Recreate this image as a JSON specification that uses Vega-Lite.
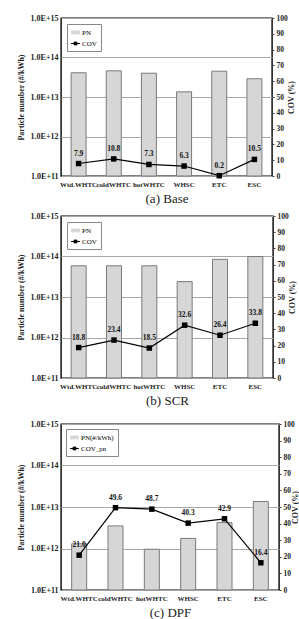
{
  "$schema": "https://vega.github.io/schema/vega-lite/v6.json",
  "padding": {"left": 16, "top": 13, "right": 0, "bottom": 0},
  "config": {
    "font": "Liberation Serif",
    "view": {"stroke": "black", "strokeWidth": 1.4},
    "axis": {"labelFont": "Liberation Serif", "titleFont": "Liberation Serif", "labelColor": "#222", "titleColor": "#222"},
    "legend": {"labelFont": "Liberation Serif"}
  },
  "resolve": {"scale": {"color": "independent"}, "legend": {"color": "independent"}},
  "spacing": 11,
  "vconcat": [
    {
      "resolve": {"scale": {"color": "independent"}, "legend": {"color": "independent"}},
      "spacing": 5,
      "vconcat": [
        {
          "width": 211,
          "height": 158,
          "data": {"values": [
            {"cycle": "Wtd.WHTC", "pn": 4.1e13, "cov": 7.9},
            {"cycle": "coldWHTC", "pn": 4.6e13, "cov": 10.8},
            {"cycle": "hotWHTC", "pn": 4.0e13, "cov": 7.3},
            {"cycle": "WHSC", "pn": 1.35e13, "cov": 6.3},
            {"cycle": "ETC", "pn": 4.5e13, "cov": 0.2},
            {"cycle": "ESC", "pn": 2.9e13, "cov": 10.5}
          ]},
          "layer": [
            {
              "mark": {"type": "bar", "size": 15, "stroke": "#7a7a7a", "strokeWidth": 1},
              "encoding": {
                "x": {"field": "cycle", "type": "nominal", "sort": null,
                  "axis": {"title": "(a)  Base", "titleFontSize": 13, "titleFontWeight": "normal", "titlePadding": 5, "labelAngle": 0, "labelFontSize": 7, "labelFontWeight": "bold", "labelPadding": 4, "ticks": false, "domain": false}},
                "y": {"field": "pn", "type": "quantitative", "scale": {"type": "log", "domain": [1e11, 1e15]},
                  "axis": {"title": "Particle number (#/kWh)", "titleFontSize": 8, "titleFontWeight": "bold", "titlePadding": 5, "values": [1e11, 1e12, 1e13, 1e14, 1e15], "labelExpr": "'1.0E+' + round(log(datum.value)/LN10)", "labelFontSize": 8, "labelFontWeight": "bold", "labelPadding": 3, "ticks": false, "domain": false, "grid": true, "gridColor": "#a8a8a8", "gridWidth": 1}},
                "y2": {"datum": 1e11},
                "color": {"datum": "PN", "scale": {"domain": ["PN", "COV"], "range": ["#d6d6d6", "black"]},
                  "legend": {"title": null, "orient": "top-left", "offset": 6, "padding": 4, "strokeColor": "#888", "fillColor": "white", "labelFontSize": 7, "symbolSize": 64, "rowPadding": 3, "labelOffset": 2,
                    "symbolType": {"expr": "datum.value === 'PN' ? 'M-1,-0.35H1V0.35H-1Z' : 'M-1.1,0H1.1M-0.35,-0.35H0.35V0.35H-0.35Z'"},
                    "symbolStrokeColor": {"expr": "datum.value === 'PN' ? '#666' : 'black'"},
                    "symbolStrokeWidth": 1}}
              }
            },
            {
              "encoding": {
                "x": {"field": "cycle", "type": "nominal", "sort": null},
                "y": {"field": "cov", "type": "quantitative", "scale": {"domain": [0, 100]},
                  "axis": {"orient": "right", "title": "COV (%)", "titleAngle": 270, "titleFontSize": 8, "titleFontWeight": "bold", "titlePadding": 8, "values": [0, 10, 20, 30, 40, 50, 60, 70, 80, 90, 100], "labelFontSize": 7.5, "labelFontWeight": "bold", "tickSize": 2, "tickColor": "#444", "labelPadding": 2, "domain": false, "grid": false}}
              },
              "layer": [
                {"mark": {"type": "line", "strokeWidth": 1.2}, "encoding": {"color": {"datum": "COV"}}},
                {"mark": {"type": "point", "shape": "square", "filled": true, "size": 30, "opacity": 1}, "encoding": {"color": {"datum": "COV"}}},
                {"mark": {"type": "text", "dy": -10, "fontSize": 7.5, "fontWeight": "bold", "fill": "#111"}, "encoding": {"text": {"field": "cov", "type": "quantitative", "format": ".1f"}}}
              ]
            }
          ],
          "resolve": {"scale": {"y": "independent"}}
        },
        {
          "width": 212,
          "height": 162,
          "data": {"values": [
            {"cycle": "Wtd.WHTC", "pn": 5.9e13, "cov": 18.8},
            {"cycle": "coldWHTC", "pn": 5.9e13, "cov": 23.4},
            {"cycle": "hotWHTC", "pn": 5.9e13, "cov": 18.5},
            {"cycle": "WHSC", "pn": 2.4e13, "cov": 32.6},
            {"cycle": "ETC", "pn": 8.5e13, "cov": 26.4},
            {"cycle": "ESC", "pn": 1.0e14, "cov": 33.8}
          ]},
          "layer": [
            {
              "mark": {"type": "bar", "size": 15, "stroke": "#7a7a7a", "strokeWidth": 1},
              "encoding": {
                "x": {"field": "cycle", "type": "nominal", "sort": null,
                  "axis": {"title": "(b)  SCR", "titleFontSize": 13, "titleFontWeight": "normal", "titlePadding": 5, "labelAngle": 0, "labelFontSize": 7, "labelFontWeight": "bold", "labelPadding": 4, "ticks": false, "domain": false}},
                "y": {"field": "pn", "type": "quantitative", "scale": {"type": "log", "domain": [1e11, 1e15]},
                  "axis": {"title": "Particle number (#/kWh)", "titleFontSize": 8, "titleFontWeight": "bold", "titlePadding": 5, "values": [1e11, 1e12, 1e13, 1e14, 1e15], "labelExpr": "'1.0E+' + round(log(datum.value)/LN10)", "labelFontSize": 8, "labelFontWeight": "bold", "labelPadding": 3, "ticks": false, "domain": false, "grid": true, "gridColor": "#a8a8a8", "gridWidth": 1}},
                "y2": {"datum": 1e11},
                "color": {"datum": "PN", "scale": {"domain": ["PN", "COV"], "range": ["#d6d6d6", "black"]},
                  "legend": {"title": null, "orient": "top-left", "offset": 6, "padding": 4, "strokeColor": "#888", "fillColor": "white", "labelFontSize": 7, "symbolSize": 64, "rowPadding": 3, "labelOffset": 2,
                    "symbolType": {"expr": "datum.value === 'PN' ? 'M-1,-0.35H1V0.35H-1Z' : 'M-1.1,0H1.1M-0.35,-0.35H0.35V0.35H-0.35Z'"},
                    "symbolStrokeColor": {"expr": "datum.value === 'PN' ? '#666' : 'black'"},
                    "symbolStrokeWidth": 1}}
              }
            },
            {
              "encoding": {
                "x": {"field": "cycle", "type": "nominal", "sort": null},
                "y": {"field": "cov", "type": "quantitative", "scale": {"domain": [0, 100]},
                  "axis": {"orient": "right", "title": "COV (%)", "titleAngle": 270, "titleFontSize": 8, "titleFontWeight": "bold", "titlePadding": 8, "values": [0, 10, 20, 30, 40, 50, 60, 70, 80, 90, 100], "labelFontSize": 7.5, "labelFontWeight": "bold", "tickSize": 2, "tickColor": "#444", "labelPadding": 2, "domain": false, "grid": false}}
              },
              "layer": [
                {"mark": {"type": "line", "strokeWidth": 1.2}, "encoding": {"color": {"datum": "COV"}}},
                {"mark": {"type": "point", "shape": "square", "filled": true, "size": 30, "opacity": 1}, "encoding": {"color": {"datum": "COV"}}},
                {"mark": {"type": "text", "dy": -10, "fontSize": 7.5, "fontWeight": "bold", "fill": "#111"}, "encoding": {"text": {"field": "cov", "type": "quantitative", "format": ".1f"}}}
              ]
            }
          ],
          "resolve": {"scale": {"y": "independent"}}
        }
      ]
    },
    {
      "width": 218,
      "height": 166,
      "data": {"values": [
        {"cycle": "Wtd.WHTC", "pn": 1.3e12, "cov": 21.0},
        {"cycle": "coldWHTC", "pn": 3.5e12, "cov": 49.6},
        {"cycle": "hotWHTC", "pn": 9.6e11, "cov": 48.7},
        {"cycle": "WHSC", "pn": 1.75e12, "cov": 40.3},
        {"cycle": "ETC", "pn": 4.2e12, "cov": 42.9},
        {"cycle": "ESC", "pn": 1.35e13, "cov": 16.4}
      ]},
      "layer": [
        {
          "mark": {"type": "bar", "size": 15, "stroke": "#7a7a7a", "strokeWidth": 1},
          "encoding": {
            "x": {"field": "cycle", "type": "nominal", "sort": null,
              "axis": {"title": "(c)  DPF", "titleFontSize": 13, "titleFontWeight": "normal", "titlePadding": 5, "labelAngle": 0, "labelFontSize": 7, "labelFontWeight": "bold", "labelPadding": 4, "ticks": false, "domain": false}},
            "y": {"field": "pn", "type": "quantitative", "scale": {"type": "log", "domain": [1e11, 1e15]},
              "axis": {"title": "Particle number (#/kWh)", "titleFontSize": 8, "titleFontWeight": "bold", "titlePadding": 5, "values": [1e11, 1e12, 1e13, 1e14, 1e15], "labelExpr": "'1.0E+' + round(log(datum.value)/LN10)", "labelFontSize": 8, "labelFontWeight": "bold", "labelPadding": 3, "ticks": false, "domain": false, "grid": true, "gridColor": "#a8a8a8", "gridWidth": 1}},
            "y2": {"datum": 1e11},
            "color": {"datum": "PN(#/kWh)", "scale": {"domain": ["PN(#/kWh)", "COV_pn"], "range": ["#d6d6d6", "black"]},
              "legend": {"title": null, "orient": "top-left", "offset": 5, "padding": 4, "strokeColor": "#888", "fillColor": "white", "labelFontSize": 7, "symbolSize": 64, "rowPadding": 3, "labelOffset": 2,
                "symbolType": {"expr": "datum.value === 'PN(#/kWh)' ? 'M-1,-0.35H1V0.35H-1Z' : 'M-1.1,0H1.1M-0.35,-0.35H0.35V0.35H-0.35Z'"},
                "symbolStrokeColor": {"expr": "datum.value === 'PN(#/kWh)' ? '#666' : 'black'"},
                "symbolStrokeWidth": 1}}
          }
        },
        {
          "encoding": {
            "x": {"field": "cycle", "type": "nominal", "sort": null},
            "y": {"field": "cov", "type": "quantitative", "scale": {"domain": [0, 100]},
              "axis": {"orient": "right", "title": "COV (%)", "titleAngle": 270, "titleFontSize": 8, "titleFontWeight": "bold", "titlePadding": 5, "values": [0, 10, 20, 30, 40, 50, 60, 70, 80, 90, 100], "labelFontSize": 7.5, "labelFontWeight": "bold", "tickSize": 2, "tickColor": "#444", "labelPadding": 2, "domain": false, "grid": false}}
          },
          "layer": [
            {"mark": {"type": "line", "strokeWidth": 1.2}, "encoding": {"color": {"datum": "COV_pn"}}},
            {"mark": {"type": "point", "shape": "square", "filled": true, "size": 30, "opacity": 1}, "encoding": {"color": {"datum": "COV_pn"}}},
            {"mark": {"type": "text", "dy": -10, "fontSize": 7.5, "fontWeight": "bold", "fill": "#111"}, "encoding": {"text": {"field": "cov", "type": "quantitative", "format": ".1f"}}}
          ]
        }
      ],
      "resolve": {"scale": {"y": "independent"}}
    }
  ]
}
